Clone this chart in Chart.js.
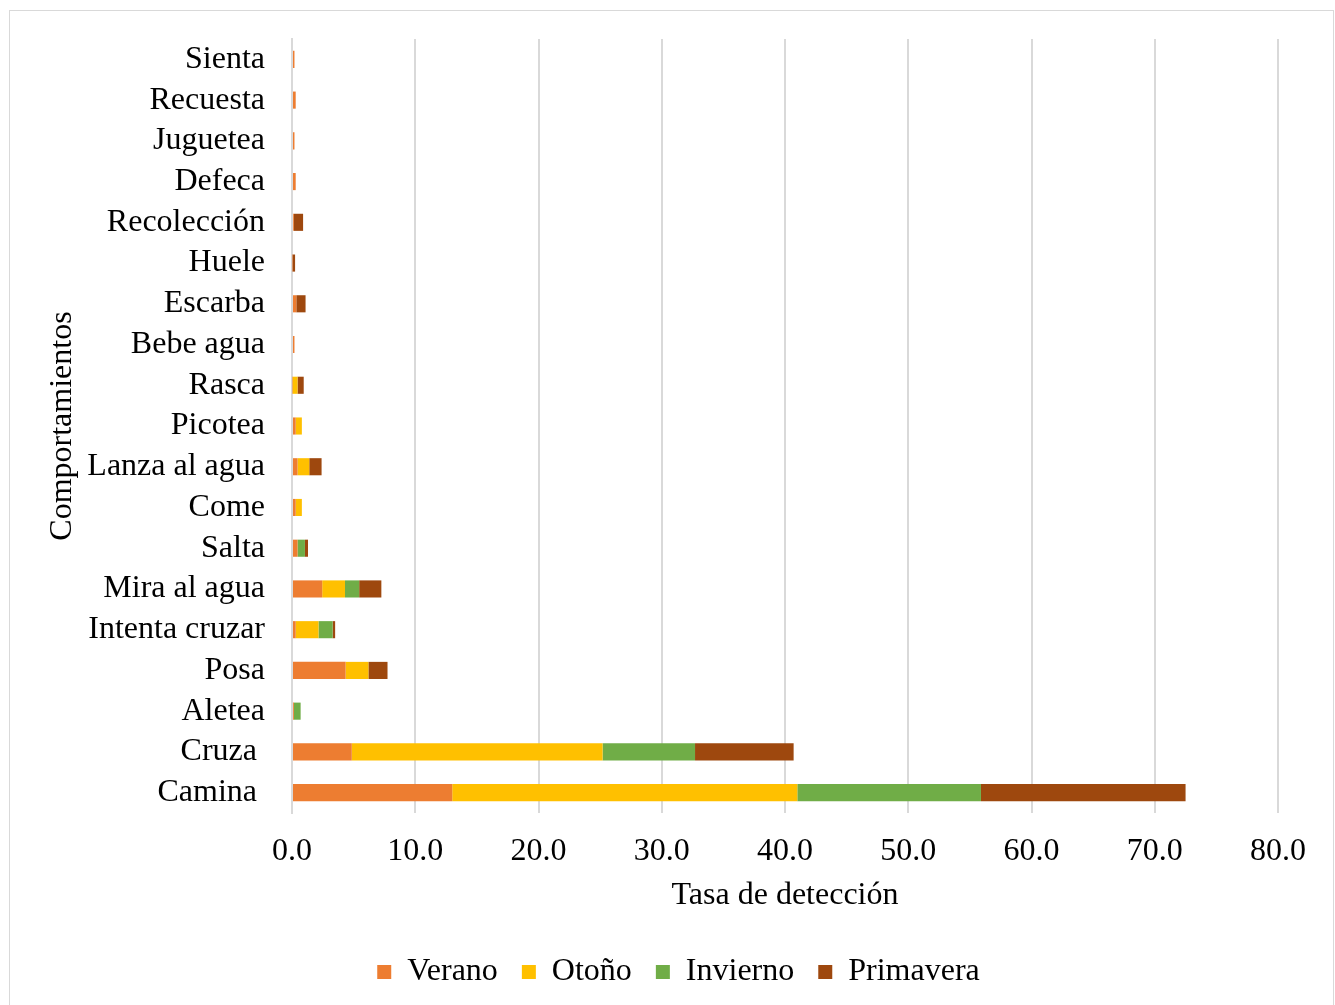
<!DOCTYPE html>
<html>
<head>
<meta charset="utf-8">
<script src="https://cdn.jsdelivr.net/npm/chart.js@4/dist/chart.umd.min.js"></script>
<style>
  html, body { margin: 0; padding: 0; background: #fff; overflow: hidden; }
  #wrap { position: relative; width: 1335px; height: 1005px; }
  #chart { position: absolute; left: 0; top: 0; }
  #frame { position: absolute; left: 9px; top: 10px; width: 1325px; height: 1010px;
           border: 1px solid #d9d9d9; box-sizing: border-box; pointer-events: none; }
</style>
</head>
<body>
<div id="wrap">
  <canvas id="chart" width="1335" height="1005"></canvas>
  <div id="frame"></div>
</div>
<script>
// Behaviours, listed from the top of the chart to the bottom
const categories = ['Sienta', 'Recuesta', 'Juguetea', 'Defeca', 'Recolección', 'Huele', 'Escarba',
  'Bebe agua', 'Rasca', 'Picotea', 'Lanza al agua', 'Come', 'Salta', 'Mira al agua',
  'Intenta cruzar', 'Posa', 'Aletea', 'Cruza ', 'Camina '];

// Detection rate per season
const verano    = [0.2, 0.3, 0.2, 0.3, 0.15, 0.05, 0.35, 0.2, 0.05, 0.3, 0.45, 0.3, 0.45, 2.45, 0.3, 4.35, 0.15, 4.85, 13.0];
const otono     = [0, 0, 0, 0, 0, 0, 0, 0, 0.4, 0.5, 0.95, 0.5, 0, 1.85, 1.85, 1.85, 0, 20.35, 28.0];
const invierno  = [0, 0, 0, 0, 0, 0, 0, 0, 0, 0, 0, 0, 0.6, 1.15, 1.15, 0, 0.55, 7.5, 14.9];
const primavera = [0, 0, 0, 0, 0.75, 0.2, 0.75, 0, 0.5, 0, 1.0, 0, 0.25, 1.8, 0.2, 1.55, 0, 8.0, 16.6];

const seasonNames = ['Verano', 'Otoño', 'Invierno', 'Primavera'];
const seasonColors = ['#ED7D31', '#FFC000', '#70AD47', '#9E480E'];

// X axis ticks
const xMin = 0, xMax = 80, xStep = 10;

const FONT = 'Liberation Serif, Times New Roman, serif';
Chart.defaults.font.family = FONT;
Chart.defaults.color = '#000';

const series = [verano, otono, invierno, primavera];

new Chart(document.getElementById('chart'), {
  type: 'bar',
  data: {
    labels: categories,
    datasets: series.map((vals, i) => ({
      label: seasonNames[i],
      data: vals,
      backgroundColor: seasonColors[i],
      borderWidth: 0,
      categoryPercentage: 0.42,
      barPercentage: 1.0
    }))
  },
  options: {
    indexAxis: 'y',
    responsive: false,
    animation: false,
    layout: { padding: { left: 79, right: 57, top: 39, bottom: 7 } },
    plugins: {
      tooltip: { enabled: false },
      legend: {
        position: 'bottom',
        labels: {
          font: { size: 32, family: FONT },
          boxWidth: 14,
          boxHeight: 14,
          padding: 24,
          color: '#000'
        }
      }
    },
    scales: {
      x: {
        stacked: true,
        min: xMin,
        max: xMax,
        afterFit: (s) => { s.height = 119; },
        ticks: {
          stepSize: xStep,
          padding: 19,
          font: { size: 32, family: FONT },
          color: '#000',
          callback: (v) => Number(v).toFixed(1)
        },
        grid: { color: '#d9d9d9', lineWidth: 2, drawTicks: false },
        border: { display: false },
        title: {
          display: true,
          text: 'Tasa de detección',
          font: { size: 32, family: FONT },
          color: '#000',
          padding: { top: 0, bottom: 17 }
        }
      },
      y: {
        stacked: true,
        afterFit: (s) => {
          s.width = 213;
          s.paddingTop = 0;
          s.paddingBottom = 0;
        },
        ticks: {
          autoSkip: false,
          padding: 27,
          font: { size: 32, family: FONT },
          color: '#000'
        },
        grid: { display: false, drawTicks: false },
        border: { display: true, color: '#d9d9d9', width: 2 },
        title: {
          display: true,
          text: 'Comportamientos',
          font: { size: 32, family: FONT },
          color: '#000',
          padding: { top: -36, bottom: 0 }
        }
      }
    }
  }
});
</script>
</body>
</html>
